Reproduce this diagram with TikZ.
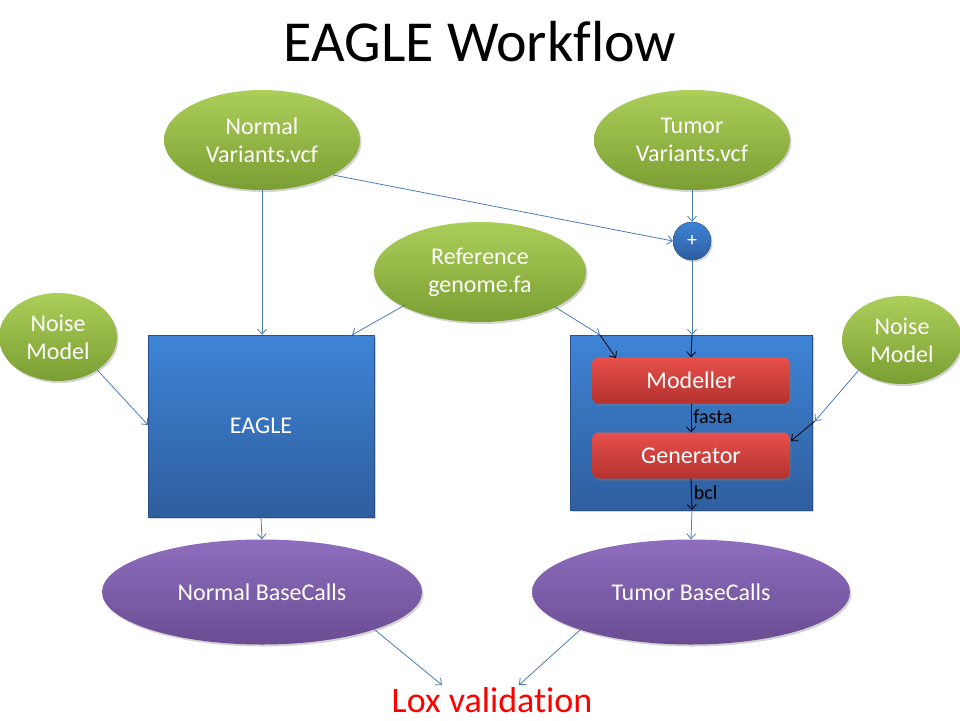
\documentclass[tikz,border=0pt]{standalone}
\usepackage{fontspec}
\setmainfont[Ligatures=NoCommon]{Carlito}
\usetikzlibrary{shapes.geometric,arrows.meta,shadows,calc}
\definecolor{greenT}{RGB}{172,206,90}
\definecolor{greenB}{RGB}{122,158,50}
\definecolor{blueT}{RGB}{62,132,214}
\definecolor{blueB}{RGB}{46,94,158}
\definecolor{blueE}{RGB}{40,80,140}
\definecolor{redT}{RGB}{232,80,76}
\definecolor{redB}{RGB}{180,50,46}
\definecolor{purT}{RGB}{142,110,190}
\definecolor{purB}{RGB}{106,76,146}
\definecolor{lineblue}{RGB}{74,126,187}
\definecolor{loxred}{RGB}{255,0,0}
\begin{document}
\begin{tikzpicture}[x=1pt,y=-1pt,
  shd/.style={drop shadow={opacity=0.35,shadow xshift=1.5pt,shadow yshift=-2pt}},
  gell/.style={ellipse,inner sep=0pt,top color=greenT,bottom color=greenB,draw=none,shd,
    text=white,align=center,font=\fontsize{24}{28}\selectfont},
  pell/.style={ellipse,inner sep=0pt,top color=purT,bottom color=purB,draw=none,shd,
    text=white,align=center,font=\fontsize{24}{28}\selectfont,minimum width=320pt,minimum height=105pt},
  bbox/.style={rectangle,inner sep=0pt,top color=blueT,bottom color=blueB,draw=blueE,line width=0.6pt,shd},
  rbox/.style={rectangle,rounded corners=5pt,inner sep=0pt,top color=redT,bottom color=redB,draw=none,shd,
    text=white,font=\fontsize{24}{28}\selectfont,minimum width=197pt,minimum height=46pt},
  flow/.style={draw=lineblue,line width=0.8pt,-{Straight Barb[length=5pt,width=9pt]}},
  iflow/.style={draw=black,line width=0.8pt,-{Straight Barb[length=5pt,width=9pt]}},
  lbl/.style={font=\fontsize{20}{24}\selectfont,text=black,anchor=west,inner sep=0pt}
]
\useasboundingbox (0,0) rectangle (960,720);

\node (title) at (480,42) {\fontsize{58}{64}\selectfont EAGLE Workf\kern0pt low};

\node[gell,minimum width=196pt,minimum height=100pt] (nv) at (262,140) {Normal\\Variants.vcf};
\node[gell,minimum width=196pt,minimum height=100pt] (tv) at (692,140) {Tumor\\Variants.vcf};
\node[gell,minimum width=212pt,minimum height=100pt] (ref) at (480,272) {Reference\\genome.fa};
\node[gell,minimum width=118pt,minimum height=88pt] (nl) at (58,337) {Noise\\Model};
\node[gell,minimum width=120pt,minimum height=88pt] (nr) at (902,340) {Noise\\Model};

\node[circle,inner sep=0pt,minimum size=38pt,top color=blueT,bottom color=blueB,draw=blueE,line width=0.5pt,shd,
  text=white,font=\fontsize{20}{24}\selectfont] (plus) at (692,241) {+};

\node[bbox,minimum width=226pt,minimum height=182pt,text=white,font=\fontsize{24}{28}\selectfont] (eagle) at (261,426) {EAGLE};
\node[bbox,minimum width=242pt,minimum height=175pt] (gen) at (691,422.5) {};
\node[rbox] (mod) at (691,380.5) {Modeller};
\node[rbox] (gnr) at (691,455.5) {Generator};

\node[pell] (nbc) at (262,592) {Normal BaseCalls};
\node[pell,minimum width=318pt] (tbc) at (691,592) {Tumor BaseCalls};

\node[text=loxred,font=\fontsize{36}{40}\selectfont] (lox) at (492,700) {Lox validation};

% start points on ellipse borders
\coordinate (nvE) at (333,175);
\coordinate (refL) at (405,305);
\coordinate (refR) at (555,307);
\coordinate (nbcE) at (375,630);
\coordinate (tbcW) at (580,630);
% coordinates on box edges
\coordinate (gtop) at (692,335);
\coordinate (gtopL) at (600,335);
\coordinate (gright) at (815,421);
\coordinate (gbot) at (692,510);
\coordinate (modL) at (616,358);
\coordinate (genR) at (791,441);
\coordinate (eagleR) at (352,335);
\coordinate (eagleL) at (148,425);
\coordinate (loxL) at (442,685);
\coordinate (loxR) at (519,685);

\draw[flow] (nv.south) -- (nv.south |- eagle.north);
\draw[flow] (nvE) -- (plus.west);
\draw[flow] (tv.south) -- (plus.north);
\draw[flow] (plus.south) -- (gtop);
\draw[iflow] (gtop) -- (mod.north);
\draw[flow] (refL) -- (eagleR);
\draw[flow] (refR) -- (gtopL);
\draw[iflow] (gtopL) -- (modL);
\draw[flow] (nl.-40) -- (eagleL);
\draw[flow] (nr.-145) -- (gright);
\draw[iflow] (gright) -- (genR);
\draw[iflow] (mod.south) -- node[lbl,pos=0.45,xshift=2pt]{fasta} (gnr.north);
\draw[iflow] (gnr.south) -- node[lbl,pos=0.45,xshift=2pt]{bcl} (gbot);
\draw[flow] (gbot) -- (tbc.north);
\draw[flow] (eagle.south) -- (nbc.north);
\draw[flow] (nbcE) -- (loxL);
\draw[flow] (tbcW) -- (loxR);
\end{tikzpicture}
\end{document}
